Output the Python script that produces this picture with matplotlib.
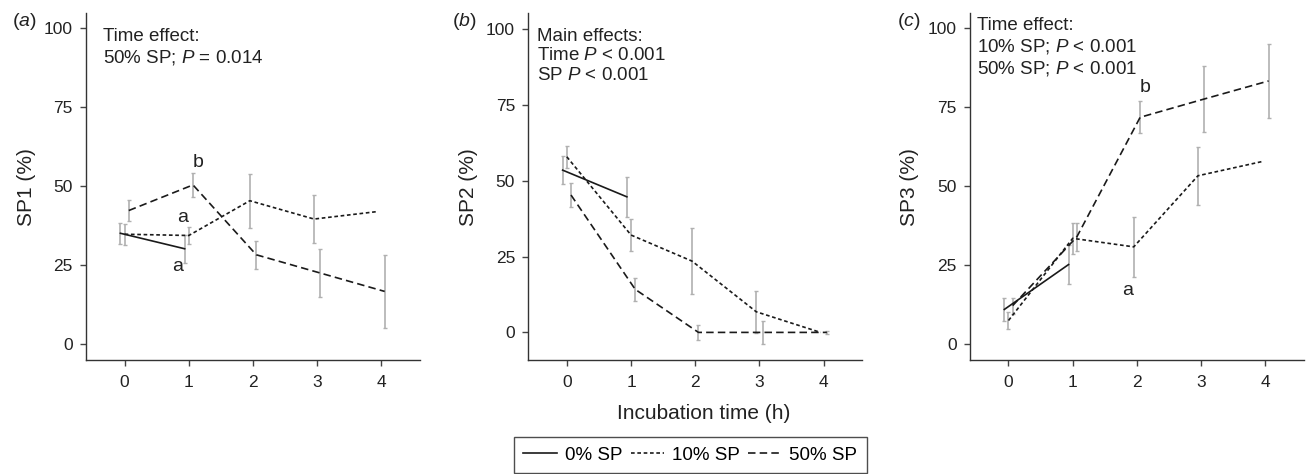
import numpy as np
import matplotlib
matplotlib.use('Agg')
import matplotlib.pyplot as plt

plt.rcParams['font.family'] = ['Liberation Sans', 'DejaVu Sans']
plt.rcParams['mathtext.fontset'] = 'custom'
plt.rcParams['mathtext.rm'] = 'Liberation Sans'
plt.rcParams['mathtext.it'] = 'Liberation Sans:italic'

# data
times = [0, 1, 2, 3, 4]
groups = ['0% SP', '10% SP', '50% SP']

sp1_0 = [35.1, 30.2]
sp1_0_err = [3.3, 4.4]
sp1_10 = [34.8, 34.4, 45.4, 39.6, 42.0]
sp1_10_err = [3.3, 2.6, 8.5, 7.6, np.nan]
sp1_50 = [42.3, 50.4, 28.3, 22.5, 16.7]
sp1_50_err = [3.4, 3.8, 4.5, 7.6, 11.6]

sp2_0 = [53.5, 44.7]
sp2_0_err = [4.6, 6.6]
sp2_10 = [57.9, 32.1, 23.5, 6.8, 0.0]
sp2_10_err = [3.7, 5.2, 10.8, 6.9, np.nan]
sp2_50 = [45.3, 14.2, 0.0, 0.0, 0.0]
sp2_50_err = [4.0, 3.9, 2.6, 3.8, 0.5]

sp3_0 = [11.0, 25.2]
sp3_0_err = [3.7, 6.3]
sp3_10 = [7.5, 33.5, 30.8, 53.3, 57.8]
sp3_10_err = [2.8, 4.8, 9.6, 9.1, np.nan]
sp3_50 = [12.2, 34.0, 71.8, 77.6, 83.3]
sp3_50_err = [2.5, 4.4, 5.0, 10.3, 11.6]

panels = [
    ('a', 'SP1 (%)', [sp1_0, sp1_10, sp1_50], [sp1_0_err, sp1_10_err, sp1_50_err],
     'Time effect:\n50% SP; $P$ = 0.014'),
    ('b', 'SP2 (%)', [sp2_0, sp2_10, sp2_50], [sp2_0_err, sp2_10_err, sp2_50_err],
     'Main effects:\nTime $P$ < 0.001\nSP $P$ < 0.001'),
    ('c', 'SP3 (%)', [sp3_0, sp3_10, sp3_50], [sp3_0_err, sp3_10_err, sp3_50_err],
     'Time effect:\n10% SP; $P$ < 0.001\n50% SP; $P$ < 0.001'),
]
letters = {
    'a': [('b', 1.14, 57.5), ('a', 0.9, 40.0), ('a', 0.83, 24.5)],
    'b': [],
    'c': [('b', 2.12, 81.3), ('a', 1.86, 17.0)],
}
ylims = {'a': (-5, 104.7), 'b': (-9.1, 105.2), 'c': (-5, 104.7)}
text_pos = {'a': (0.051, 0.958), 'b': (0.025, 0.958), 'c': (0.022, 0.99)}
tag_x = {'a': 12, 'b': 452, 'c': 897}

styles = ['-', (0, (2.2, 1.6)), (0, (4.5, 2.5))]
lefts = [0.0659, 0.4045, 0.7427]

fig = plt.figure(figsize=(13.06, 4.74), dpi=100)
handles = []
for left, (tag, ylab, series, errs, note) in zip(lefts, panels):
    ax = fig.add_axes([left, 0.2405, 0.2557, 0.7314])
    for i, (vals, err) in enumerate(zip(series, errs)):
        n = len(vals)
        x = []
        for t in times[:n]:
            if t < len(series[0]):
                off = [-0.065, 0.0, 0.065][i]
            else:
                off = [0, -0.05, 0.05][i]
            x.append(t + off)
        ax.errorbar(x, vals, yerr=err, fmt='none', ecolor='#b0b0b0',
                    elinewidth=1.2, capsize=1.6, capthick=1.0, zorder=2)
        ln, = ax.plot(x, vals, color='#1a1a1a', lw=1.2, linestyle=styles[i],
                      label=groups[i], zorder=3)
        if tag == 'a':
            handles.append(ln)
    for s, lx, ly in letters[tag]:
        ax.text(lx, ly, s, fontsize=14, ha='center', va='center', color='#222222')
    ax.text(text_pos[tag][0], text_pos[tag][1], note, transform=ax.transAxes,
            fontsize=13.5, va='top', ha='left', linespacing=1.2, color='#222222')
    ax.set_xlim(-0.6, 4.6)
    ax.set_ylim(*ylims[tag])
    ax.set_xticks(times)
    ax.set_yticks([0, 25, 50, 75, 100])
    ax.set_ylabel(ylab, fontsize=15, color='#222222', labelpad=6)
    for sp in ['top', 'right']:
        ax.spines[sp].set_visible(False)
    for sp in ['left', 'bottom']:
        ax.spines[sp].set_color('#333333')
        ax.spines[sp].set_linewidth(1.0)
    ax.tick_params(axis='both', direction='out', length=4.5, width=1.0,
                   color='#444444', labelcolor='#222222', labelsize=12.5)
    ax.tick_params(axis='x', pad=6)
    ax.tick_params(axis='y', pad=5)
    if tag == 'b':
        ax.set_xlabel('Incubation time (h)', fontsize=15, color='#222222')
        ax.xaxis.set_label_coords(0.524, -0.128)
    fig.text(tag_x[tag] / 1306, 1 - 22 / 474, '($%s$)' % tag, fontsize=14,
             ha='left', va='center', color='#222222')

leg = fig.legend(handles=handles, labels=groups, ncol=3, loc='upper left',
                 bbox_to_anchor=(514 / 1306, 1 - 437 / 474), fontsize=13.5,
                 frameon=True, fancybox=False, handlelength=1.8,
                 handletextpad=0.4, columnspacing=0.45, borderpad=0.5,
                 borderaxespad=0)
leg.get_frame().set_edgecolor('#222222')
leg.get_frame().set_linewidth(1.0)

fig.savefig('out.png', dpi=100)
